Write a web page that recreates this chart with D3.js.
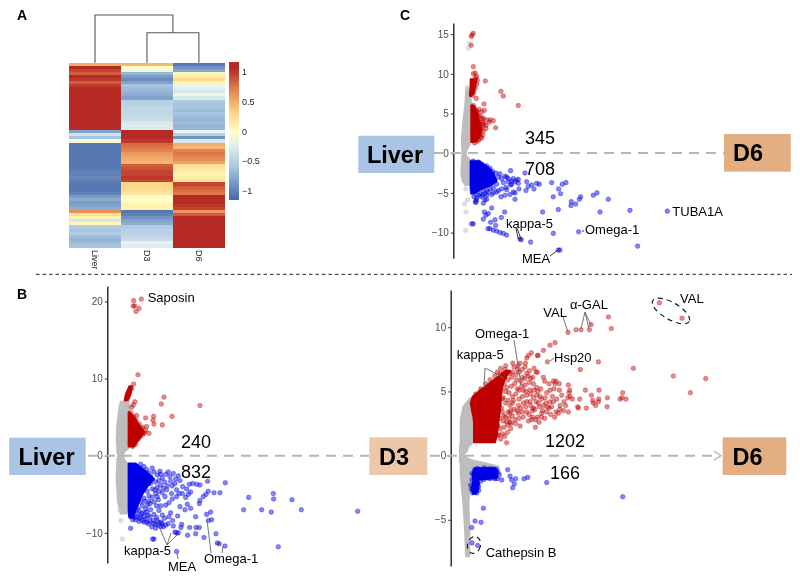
<!DOCTYPE html>
<html><head><meta charset="utf-8">
<script src="https://cdn.jsdelivr.net/npm/d3@7"></script>
<style>html,body{margin:0;background:#fff}svg{display:block;filter:blur(.35px)}text{font-family:"Liberation Sans",Arial,sans-serif}</style>
</head><body><svg id="c" width="800" height="580"></svg>
<script>
// ---------- heatmap data ----------
const samples=["Liver","D3","D6"];
const liverRows=[.5,1.05,.95,.85,1.05,1.0,.85,.98,1.1,1.1,1.05,1.1,1.1,1.1,1.1,1.1,1.1,1.1,1.1,1.1,1.1,1.1,-.8,-.35,-.6,-.1,-1.05,-1.05,-1.05,-1.05,-1.05,-1.05,-1.05,-1.05,-1.05,-1.0,-1.0,-.95,-1.0,-1.05,-1.05,-1.05,-1.0,-.85,-.75,-.85,-.8,-.75,.65,.25,.1,-.3,.05,-.55,-.6,-.55,-.65,-.7,-.65,-.6];
const d3Rows=[.45,0,-.15,-.7,-.85,-.95,-.8,-.6,-.65,-.7,-.75,-.8,-.5,-.5,-.45,-.45,-.45,-.4,-.4,-.3,-.25,-.25,1.15,1.1,1.05,1.0,.8,.75,.7,.6,.55,.5,.45,.85,.9,.95,.95,1,.95,.3,.3,.25,.2,-.05,0,.05,.1,.1,-1.05,-1,-.9,-.8,-.75,-.55,-.5,-.5,-.45,-.4,-.2,-.25];
const d6Rows=[-1.05,-.9,-.8,.1,.15,.3,.1,-.15,-.25,-.3,-.15,-.3,-.55,-.6,-.6,-.65,-.6,-.65,-.7,-.65,-.7,-.7,-.2,-.5,-.9,-.3,.5,.45,.7,.75,.7,.65,.55,.25,.2,.15,.1,.15,.2,.95,.85,.8,.75,1.1,1.05,1.1,1.0,.95,.6,.85,1.05,1.1,1.05,1.1,1.1,1.1,1.1,1.1,1.1,1.1];
const legendTicks=[1,.5,0,-.5,-1];
const yTicksB=[20,10,0,-10], yTicksC=[15,10,5,0,-5,-10], yTicksD=[10,5,0,-5];

// ---------- panel C ---------- [y, xLeft, xRight] envelopes of the dense clouds; [x,y] single genes
const cGray=[[8.2,40,44],[7.5,38,50],[6,36,54],[4,30,54],[2,26,54],[1.2,26,50],[.4,27,40],[0,28,37],[-.4,27,40],[-1,26,54],[-2.5,24,54],[-3.5,28,54],[-4,36,50]];
const cRedTop=[[9.3,52,70],[8.5,52,66],[7.5,50,60],[7.2,50,54]];
const cRedLow=[[6,54,60],[5,54,72],[4,54,78],[3,54,85],[2,54,78],[1.5,54,70],[1.4,54,60]];
const cBlue=[[-1,52,78],[-1.5,52,95],[-2,52,110],[-2.5,52,120],[-3,52,125],[-3.5,52,130],[-4,52,115],[-4.5,52,85],[-5,54,65]];
const cGrayPts=[[37,-4.5],[43,-5.9],[34,-6.4],[38,-7.4],[37,-9.7],[48,13.8],[46,13.2],[43,8.3]];
const cRedPts=[[60,15.1],[56,14.9],[54,14.7],[54,13.6],[60,10.9],[66,10.1],[60,10],[70,9.7],[96,9.1],[143,7.8],[150,7.2],[195,6],[69,6.9],[92,6.2],[78,5.5],[85,5.2],[93,5.4],[72,4.8],[82,4.6],[90,4.4],[100,4.2],[110,4.2],[120,4.1],[127,3.2],[108,3.9],[98,3.5],[85,3.4],[75,3.1],[90,2.8],[80,2.5],[98,3.1],[73,2.1],[85,1.9],[88,4],[78,3.9],[70,5.3],[64,5.6],[83,3.0],[92,3.6],[60,6],[62,5.7],[70,5.2],[76,4.7],[86,4.3],[90,3.7],[88,2.3],[82,2.1],[78,1.7],[72,1.5],[64,1.3],[66,9.5],[72,9.2],[70,8.7],[66,8.2],[62,7.7],[58,7.3]];
const cBluePts=[[215,-2.5],[172,-2.2],[160,-3],[140,-2.6],[180,-3.2],[190,-3.4],[195,-3.8],[220,-3.6],[225,-4.2],[218,-4.7],[197,-4.5],[185,-5],[180,-4.9],[170,-5.2],[185,-5.8],[155,-5.3],[143,-5.5],[130,-4.9],[120,-5],[110,-4.5],[105,-4.9],[95,-5.1],[88,-5.3],[80,-5.1],[65,-4.9],[58,-5],[70,-5.6],[85,-5.5],[100,-5.3],[68,-6.2],[95,-5.9],[90,-6.3],[100,-5.8],[242,-4.5],[250,-3.8],[258,-3.9],[235,-4],[295,-3.7],[327,-3.9],[338,-3.7],[316,-4.5],[322,-5.1],[300,-5.5],[354,-6.1],[353,-6.6],[367,-6.4],[378,-5.8],[382,-5.5],[420,-5.3],[431,-5],[465,-5.8],[315,-7.1],[268,-7.4],[440,-7.4],[530,-7.2],[642,-7.3],[376,-9.9],[553,-11.7],[300,-10.1],[320,-12.2],[315,-12.2],[232,-11.2],[200,-10.8],[204,-10.9],[160,-10.3],[150,-10.1],[140,-10],[130,-9.8],[120,-9.7],[110,-9.5],[104,-9.5],[144,-8.1],[154,-7.4],[115,-6.9],[105,-7.6],[93,-7.4],[98,-7.8],[90,-8.3],[112,-8.7],[125,-8.4],[127,-9.1],[60,-8.9],[55,-8.9],[66,-6.1],[150,-3.7],[165,-3.6],[172,-4],[158,-4.3],[145,-4.5],[130,-3.9],[120,-4.4],[175,-3.5],[185,-3.6],[195,-3.3],[60,-1],[75,-1.1],[85,-1.4],[100,-1.6],[110,-1.9],[118,-2.3],[128,-2.5],[135,-3],[145,-3.2],[155,-2.9],[165,-3.2],[175,-3.9],[160,-4.6],[135,-4.7],[115,-5.2],[100,-4.7],[90,-4.8],[75,-5.3],[62,-5.5],[70,-5.9]];

// ---------- panel B ----------
const bGray=[[7,40,64],[6,36,64],[4,30,64],[2,28,64],[1,30,64],[.5,30,50],[0,33,48],[-.5,30,50],[-1,30,60],[-3,28,62],[-6,32,64],[-7.5,40,62]];
const bRedTop=[[9,66,74],[8,56,70],[7.2,52,62]];
const bRedLow=[[5.6,64,68],[5,64,80],[4,64,95],[3,64,110],[2,64,92],[1.2,64,80]];
const bBlue=[[-1,64,85],[-2,64,115],[-3,64,140],[-4,64,120],[-5,64,105],[-6,64,95],[-7,64,85],[-8,66,78]];
const bGrayPts=[[41,-8.4],[45,-10.8],[38,-7.1],[40,6.3]];
const bRedPts=[[102,20.3],[79,20.1],[78,19.4],[82,19.4],[95,19.1],[86,18.7],[92,10.5],[79,9.3],[73,8.7],[170,7.6],[162,6.7],[278,6.5],[83,7],[78,6.6],[73,6.3],[194,5.1],[139,5.1],[115,4.9],[137,4.6],[140,4.1],[165,4],[88,5.2],[125,2.9],[115,3.3],[108,2.8],[118,3.8],[103,3.5],[96,3.1],[88,2.5],[83,1.8],[70,5.6],[78,5.1],[86,4.6],[96,4.1],[106,3.7],[112,3],[100,2.5],[92,2.1],[85,1.5],[76,1.2]];
const bBluePts=[[751,-7.2],[582,-7],[554,-5.7],[498,-4.9],[499,-5.6],[492,-7.3],[463,-7],[424,-5.4],[409,-7],[513,-11.8],[354,-3.5],[301,-3.3],[278,-3.8],[268,-3.7],[256,-3.6],[246,-3.7],[338,-4.8],[320,-4.8],[303,-4.6],[296,-5],[288,-5.3],[278,-5.8],[276,-6.2],[250,-4.7],[243,-5],[235,-5.4],[208,-5.3],[218,-6.6],[233,-7],[310,-7.3],[298,-7.6],[313,-8.3],[303,-8.4],[265,-7.9],[211,-7.8],[196,-8.4],[223,-8.9],[221,-9.3],[198,-9.1],[165,-7.7],[162,-8.6],[148,-8],[138,-8.8],[123,-8.8],[110,-8.6],[70,-9.4],[160,-6.5],[148,-6.5],[247,-9.3],[266,-9.3],[276,-9.3],[265,-10.1],[241,-10.3],[290,-10.6],[326,-10.1],[330,-11.3],[336,-11.4],[353,-11.7],[208,-10],[203,-9.9],[213,-10],[136,-10.8],[140,-10.8],[208,-12.4],[183,-8.8],[168,-9.2],[153,-9],[133,-9.2],[188,-2.7],[198,-2.3],[183,-2.1],[158,-2],[218,-3.2],[203,-3.6],[226,-4],[208,-4.4],[193,-4.9],[178,-4.4],[173,-5.3],[153,-5.7],[128,-6.2],[118,-7.3],[103,-7.5],[98,-8.1],[88,-7.9],[150,-2.5],[165,-2.9],[175,-2.4],[172,-3.4],[160,-3.8],[168,-4.2],[155,-4.6],[145,-4.9],[135,-5.4],[125,-5.2],[150,-5.3],[140,-6],[120,-6.4],[115,-6.9],[130,-7],[108,-7.4],[140,-7.6],[128,-7.9],[115,-8.2],[105,-8.4],[95,-8.5],[85,-8.3],[150,-8.4],[160,-9.2],[145,-9.4],[172,-8.1],[185,-7.9],[190,-7.4],[155,-7.1],[175,-6.4],[185,-6.1],[195,-5.6],[165,-4.8],[180,-3.9],[190,-3.3],[205,-3],[213,-2.6],[195,-3.9],[215,-4.9],[225,-4.9],[238,-4.3],[240,-6.3],[250,-6.8],[120,-3],[135,-1.6],[110,-1.4],[100,-1.1],[125,-2.2],[110,-2.6],[130,-2.7],[145,-3.4],[150,-4.1],[135,-4.3],[120,-4.6],[110,-5.5],[125,-5.9],[105,-6.5],[95,-7.1],[130,-3.6],[155,-3.2],[140,-2.1],[160,-2.4],[118,-1.8],[105,-2],[143,-4.4],[112,-5.9],[100,-6],[90,-6.8],[118,-8.6],[128,-8.5],[138,-8.4],[145,-8.9],[155,-8.7],[165,-8.8],[175,-9],[112,-7.9],[122,-7.7],[100,-7.9],[92,-7.5],[82,-8],[76,-8.3],[72,-7.9],[80,-7.2]];

// ---------- panel D ----------
const dGray=[[4.46,58,64],[3.8,38,70],[2.77,30,70],[1.09,30,70],[.7,28,53],[.31,28,48],[0,28,34],[-.34,28,60],[-.85,30,143],[-1.11,30,143],[-1.37,30,63],[-2.41,33,58],[-3.7,38,53],[-5.78,43,56],[-7.85,46,56]];
const dRedSolid=[[1.04,70,133],[1.5,70,138],[2,70,140],[2.5,70,143],[3.03,68,145],[3.5,64,148],[4.07,60,150],[4.59,66,150],[5,84,152],[5.36,103,155],[5.8,125,160],[6.2,145,168],[6.6,165,178]];
const dBlue=[[-.98,72,135],[-1.37,66,140],[-1.7,66,140],[-1.9,68,80],[-2.15,66,85],[-2.67,62,82],[-2.98,68,76]];
const dRedPts=[[626,11.9],[694,10.7],[473,10.8],[482,9.9],[421,10.2],[416,9.8],[391,9.8],[376,9.8],[352,9.6],[313,8.8],[298,8.6],[278,8.2],[262,7.8],[260,7.8],[242,8],[233,7.8],[228,7.6],[290,7.3],[443,7.3],[548,6.8],[389,6.7],[668,6.2],[765,6],[719,4.9],[516,4.9],[514,4.5],[526,4.4],[508,4.4],[470,4.5],[469,3.8],[445,5.1],[422,4.7],[444,4.4],[426,4.3],[428,4.1],[443,4.2],[435,3.9],[404,5.1],[387,4.4],[381,3.8],[383,3.7],[407,3.7],[353,5.5],[357,5.1],[355,4.9],[358,4.6],[351,4.5],[345,3.9],[338,3.5],[353,3.4],[316,3.4],[323,3.3],[333,4.7],[326,5.1],[313,5.6],[308,5.8],[316,5.8],[326,5.6],[310,5.2],[298,5.1],[288,4.9],[278,6.1],[256,6.5],[250,6.8],[260,6.5],[223,6.9],[228,6.4],[258,5.3],[235,5.7],[208,7.2],[186,7.2],[200,6.7],[168,1],[254,2.2],[233,2.7],[243,2.8],[260,3],[273,3.3],[288,3.4],[303,3.8],[308,4.2],[283,4.5],[268,4.6],[258,4.7],[248,4.5],[238,4.2],[263,4.1],[278,3.9],[248,3.7],[228,3.4],[218,3],[208,2.3],[170,1.8],[178,2.6],[193,2.8],[203,3.3],[218,4.1],[228,4.7],[213,5.4],[198,5.9],[183,6.1],[170,6.5],[163,6.7],[148,6.4],[328,3.9],[298,4.2],[290,3.8],[276,3.5],[266,3.8],[238,5.1],[248,5.6],[223,5.5],[200,5.2],[188,4.3],[203,3.9],[178,3.3],[150,1.3],[155,1.7],[148,2.1],[160,2.2],[172,2.4],[158,2.7],[180,2.1],[165,3],[175,2.9],[185,3.1],[195,2.5],[205,2.9],[215,3.4],[190,3.6],[178,3.9],[200,3.5],[210,3.7],[225,3.8],[235,3.2],[245,3],[252,3.6],[240,3.9],[228,4.2],[215,4.6],[205,4.4],[195,4.8],[185,4.6],[175,4.9],[182,5.4],[192,5.6],[205,5.1],[218,5.1],[226,5],[240,4.8],[250,5.1],[262,5],[272,4.4],[256,4.2],[286,4.1],[295,3.7],[272,3],[282,2.9],[265,2.6],[255,2.8],[245,3.5],[185,6.5],[195,6.3],[205,6.5],[215,6.1],[222,6],[210,5.8],[232,6.2],[240,6],[172,5.9],[160,6],[178,6.4],[190,6.9],[202,7],[214,6.7],[224,7.2],[236,6.6],[246,6.1],[168,5.3],[158,4.5],[165,4.1],[172,3.4],[182,2.5],[162,1.5],[145,1.6],[152,5.2],[155,3.4],[300,3.2],[312,3],[327,3.6],[340,4.2],[365,4.4],[318,4.4],[305,4.6],[295,5.6],[270,5.2],[282,5.8],[140,1.6],[142,2.3],[148,2.9],[152,3.7],[160,3.1],[168,2.6],[155,4.4],[150,4.9],[160,5.6],[165,5],[150,5.7],[172,4.3],[180,3.5],[185,4.1],[158,6.4],[75,4.8],[90,5.2],[105,5.6],[118,5.9],[132,6.2],[150,6.8],[165,7],[120,5.5],[140,6.5]];
const dBluePts=[[516,-3.2],[288,-2.1],[231,-1.7],[220,-1.8],[195,-1.8],[191,-2.2],[186,-2.5],[183,-1.9],[178,-1.6],[171,-1.1],[153,-1.9],[133,-1.8],[118,-1.8],[98,-4.1],[73,-5.1],[91,-5.2],[63,-5.6],[64,-6.8],[81,-7],[66,-2.9],[78,-2.9],[72,-1.1],[80,-1],[90,-1.1],[100,-.95],[110,-1.05],[120,-1],[130,-1.05],[138,-1.1],[142,-1.3],[146,-1.5],[140,-1.8],[130,-1.75],[120,-1.7],[110,-1.75],[100,-1.85],[90,-2],[84,-2.4],[84,-2.7],[62,-2.6],[60,-2.3],[64,-1.9],[64,-1.4]];

// ---------- drawing ----------
const svg=d3.select("#c");
const RED="#c00000",BLUE="#0000e6",GRAY="#bdbdbd";

// A heatmap
const col=d3.scaleLinear().domain([-1.15,-.6,-.2,0,.3,.7,1.05]).range(["#4468a9","#a8c5e0","#e6f3ee","#ffffc4","#fdd78a","#e5824f","#b52b24"]).clamp(true);
const hx=d3.scaleBand().domain(samples).range([69.3,224.6]).paddingInner(.01);
const hy=d3.scaleBand().domain(d3.range(liverRows.length)).range([62.7,247]);
[liverRows,d3Rows,d6Rows].forEach((r,i)=>{
  svg.append("g").attr("shape-rendering","crispEdges").selectAll("rect").data(r).join("rect")
    .attr("x",hx(samples[i])).attr("width",hx.bandwidth())
    .attr("y",(d,j)=>hy(j)).attr("height",hy.bandwidth()+.6).attr("fill",d=>col(d));
});
svg.append("path").attr("fill","none").attr("stroke","#555").attr("stroke-width",1.1)
  .attr("d",()=>{const a=hx("Liver")+hx.bandwidth()/2,b=hx("D3")+hx.bandwidth()/2,c=hx("D6")+hx.bandwidth()/2,m=(b+c)/2;
    return `M${a},62.7V15H${m}V32.7 M${b},62.7V32.7H${c}V62.7`;});
samples.forEach(s=>svg.append("text").attr("transform",`translate(${hx(s)+hx.bandwidth()/2-3},250) rotate(90)`).attr("font-size",9).attr("fill","#222").text(s));
const ly=d3.scaleLinear().domain([-1.145,1.155]).range([200,62.7]);
svg.append("g").attr("shape-rendering","crispEdges").selectAll("rect").data(d3.range(-1.145,1.155,.02)).join("rect").attr("x",229.3).attr("width",9.4).attr("y",d=>ly(d)-1.4).attr("height",1.8).attr("fill",d=>col(d));
svg.append("g").selectAll("text").data(legendTicks).join("text").attr("x",242).attr("y",d=>ly(d)+3).attr("font-size",9).attr("fill","#222").text(d=>(d<0?"\u2212":"")+Math.abs(d));

function volcano(o){
  const x=d3.scaleLinear().domain([0,300]).range([o.ax,o.ax+100]);
  const y=d3.scaleLinear().domain(o.yd).range(o.yr);
  const area=d3.area().y(d=>y(d[0])).x0(d=>x(d[1])).x1(d=>x(d[2]));
  const g=svg.append("g");
  g.append("path").datum(o.gray).attr("d",area).attr("fill",GRAY).attr("stroke",GRAY).attr("stroke-width",2).attr("stroke-linejoin","round");
  const pts=(data,c,op)=>g.append("g").selectAll("circle").data(data).join("circle")
    .attr("cx",d=>x(d[0])).attr("cy",d=>y(d[1])).attr("r",2.3).attr("fill",c).attr("fill-opacity",op).attr("stroke",c).attr("stroke-opacity",op).attr("stroke-width",.7);
  if(o.grayPts)pts(o.grayPts,"#c4c4c4",.55);
  o.bands.forEach(b=>g.append("path").datum(b.d).attr("d",area).attr("fill",b.c).attr("stroke",b.c).attr("stroke-width",2).attr("stroke-linejoin","round"));
  pts(o.red,RED,.45);pts(o.blue,BLUE,.48);
  const ax=d3.axisLeft(y).tickValues(o.ticks).tickSize(2.5).tickPadding(2).tickSizeOuter(0).tickFormat(d=>(d<0?"\u2212":"")+Math.abs(d));
  const ga=svg.append("g").attr("transform",`translate(${o.ax},0)`).call(ax);
  ga.select(".domain").attr("stroke","#222").attr("stroke-width",1.4);
  ga.selectAll(".tick line").attr("stroke","#333");
  ga.selectAll("text").attr("font-size",10).attr("fill","#4d4d4d").attr("font-family","Liberation Sans");
}
volcano({ax:453.3,yd:[-13.2,16.4],yr:[258,23],gray:cGray,grayPts:cGrayPts,ticks:yTicksC,red:cRedPts,blue:cBluePts,
  bands:[{d:cRedTop,c:RED},{d:cRedLow,c:RED},{d:cBlue,c:BLUE}]});
volcano({ax:107.3,yd:[-13.9,22],yr:[563,286],gray:bGray,grayPts:bGrayPts,ticks:yTicksB,red:bRedPts,blue:bBluePts,
  bands:[{d:bRedTop,c:RED},{d:bRedLow,c:RED},{d:bBlue,c:BLUE}]});
volcano({ax:450.7,yd:[-8.6,12.9],yr:[566,290],gray:dGray,ticks:yTicksD,red:dRedPts,blue:dBluePts,
  bands:[{d:dRedSolid,c:RED},{d:dBlue,c:BLUE}]});

// dashed guides
const guide=(x1,x2,y)=>svg.append("line").attr("x1",x1).attr("x2",x2).attr("y1",y).attr("y2",y).attr("stroke","#b5b5b5").attr("stroke-width",2).attr("stroke-dasharray","10 7");
guide(434,724,153);guide(88,369,455.7);guide(430,716,455.7);
const chev=(x,y)=>svg.append("path").attr("d",`M${x-7},${y-4.5}L${x},${y}L${x-7},${y+4.5}`).attr("fill","none").attr("stroke","#b0b8c0").attr("stroke-width",1.4);
chev(378,455.7);chev(721,455.7);
svg.append("line").attr("x1",36).attr("x2",792).attr("y1",274.3).attr("y2",274.3).attr("stroke","#222").attr("stroke-width",1).attr("stroke-dasharray","3.5 3");

// boxes
const box=(x,y,w,h,c,t,tx)=>{
  svg.append("rect").attr("x",x).attr("y",y).attr("width",w).attr("height",h).attr("fill",c);
  svg.append("text").attr("x",tx).attr("y",y+h/2+8.5).attr("text-anchor","middle").attr("font-size",23.5).attr("font-weight","bold").attr("fill","#000").text(t);
};
box(358.3,135.7,76,37.3,"#a9c4e4","Liver",395);
box(724,134,66.7,37.7,"#e3ae82","D6",748);
box(9.3,437.7,76.4,37.3,"#a9c4e4","Liver",46.5);
box(369.3,437.3,58,37.7,"#ecc8a8","D3",394);
box(722.7,437.3,63.6,37.7,"#e3ae82","D6",747.5);

// text
const txt=(x,y,t,s,a,b)=>svg.append("text").attr("x",x).attr("y",y).attr("font-size",s).attr("text-anchor",a||"start").attr("font-weight",b?"bold":"normal").attr("fill","#000").text(t);
txt(17,20,"A",14,"start",1);txt(17,299,"B",14,"start",1);txt(400,20,"C",14,"start",1);
[[540,144,"345"],[540,175,"708"],[196,448,"240"],[196,478,"832"],[565,447,"1202"],[565,479,"166"]].forEach(d=>txt(d[0],d[1],d[2],18,"middle"));
[[147.7,301.7,"Saposin"],[124,555,"kappa-5"],[168,570.7,"MEA"],[204,563,"Omega-1"],
 [506,227.7,"kappa-5"],[522,262.7,"MEA"],[585,234.3,"Omega-1"],[672.3,216,"TUBA1A"],
 [680,303.3,"VAL"],[543.3,317.3,"VAL"],[570,309.3,"\u03b1-GAL"],[475,338.3,"Omega-1"],[456.7,359.3,"kappa-5"],[554,361.7,"Hsp20"],[485.7,556.7,"Cathepsin B"]
].forEach(d=>txt(d[0],d[1],d[2],13));

// leaders
const lead=(pts,c)=>svg.append("path").attr("d",d3.line()(pts)).attr("fill","none").attr("stroke",c||"#666").attr("stroke-width",.9);
lead([[155,517],[167,545],[171,533]]);lead([[167,545],[177,535]]);lead([[178,559],[177,553]]);
lead([[211,553],[207,520]]);lead([[222,553],[223,546]]);
lead([[516,228],[518,238],[521,239],[517,228]],"#222");lead([[550,256],[558,250]],"#222");lead([[582,231],[584,231]],"#222");
lead([[563,317],[568,332]]);lead([[585,312],[581,329]]);lead([[585,312],[589,329]]);lead([[585,312],[591,325]]);
lead([[514,340],[521,385]]);lead([[484,388],[485,368],[504,378]]);lead([[550,361],[554,358]]);

// dashed ellipses
const ell=(cx,cy,rx,ry,rot)=>svg.append("ellipse").attr("cx",cx).attr("cy",cy).attr("rx",rx).attr("ry",ry).attr("transform",`rotate(${rot} ${cx} ${cy})`).attr("fill","none").attr("stroke","#111a33").attr("stroke-width",1.2).attr("stroke-dasharray","5 4");
ell(671,311,21,8.5,30);ell(474,545,6.5,8.5,15);
</script></body></html>
